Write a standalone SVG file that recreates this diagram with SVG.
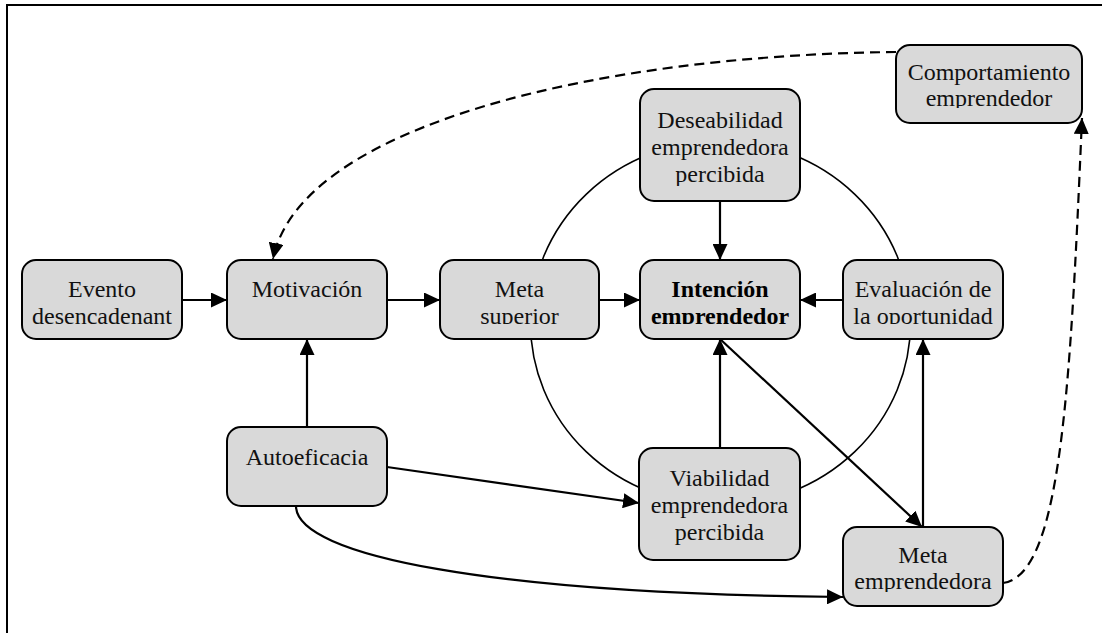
<svg xmlns="http://www.w3.org/2000/svg" width="1102" height="633" viewBox="0 0 1102 633">
  <style>
    .box { fill: #d9d9d9; stroke: #000; stroke-width: 2; }
    .lbl { font-family: "Liberation Serif", "Times New Roman", serif; font-size: 24px; fill: #111; text-anchor: middle; }
    .bold { font-weight: bold; fill: #000; }
    .edge { fill: none; stroke: #000; stroke-width: 2.2; }
    .dash { stroke-dasharray: 10 6; }
    .ring { fill: none; stroke: #000; stroke-width: 1.6; }
    .frame { fill: none; stroke: #000; stroke-width: 2; }
  </style>
  <defs>
    <marker id="arrow" viewBox="0 0 16 15" refX="16" refY="7.5" markerWidth="16" markerHeight="15" markerUnits="userSpaceOnUse" orient="auto">
      <path d="M0,0 L16,7.5 L0,15 z" fill="#000"/>
    </marker>
    <!-- label areas stop a little above each box's lower edge -->
    <clipPath id="c-evento"><rect x="22" y="260" width="160" height="64"/></clipPath>
    <clipPath id="c-motiv"><rect x="227" y="260" width="160" height="64"/></clipPath>
    <clipPath id="c-metasup"><rect x="440" y="260" width="159" height="64"/></clipPath>
    <clipPath id="c-intencion"><rect x="640" y="260" width="160" height="64"/></clipPath>
    <clipPath id="c-eval"><rect x="843" y="260" width="160" height="64"/></clipPath>
    <clipPath id="c-deseab"><rect x="640" y="89" width="160" height="97"/></clipPath>
    <clipPath id="c-comport"><rect x="896" y="45" width="186" height="63"/></clipPath>
    <clipPath id="c-autoef"><rect x="227" y="427" width="160" height="64"/></clipPath>
    <clipPath id="c-viab"><rect x="639" y="448" width="161" height="97"/></clipPath>
    <clipPath id="c-metaemp"><rect x="843" y="527" width="160" height="65"/></clipPath>
  </defs>

  <!-- frame edges -->
  <path class="frame" d="M7,633 L7,5 L1102,5"/>

  <!-- surrounding ring -->
  <ellipse class="ring" cx="720.5" cy="323" rx="190" ry="182"/>

  <g id="connectors">
    <path class="edge" d="M182,300 L227,300" marker-end="url(#arrow)"/>
    <path class="edge" d="M387,300 L440,300" marker-end="url(#arrow)"/>
    <path class="edge" d="M599,300 L640,300" marker-end="url(#arrow)"/>
    <path class="edge" d="M843,300 L800,300" marker-end="url(#arrow)"/>
    <path class="edge" d="M720,201 L720,260" marker-end="url(#arrow)"/>
    <path class="edge" d="M720,448 L720,339" marker-end="url(#arrow)"/>
    <path class="edge" d="M307,427 L307,339" marker-end="url(#arrow)"/>
    <path class="edge" d="M387,467 L639,503" marker-end="url(#arrow)"/>
    <path class="edge" d="M296,506 C296,556 493,594 843,597" marker-end="url(#arrow)"/>
    <path class="edge" d="M720,339 L922,527" marker-end="url(#arrow)"/>
    <path class="edge" d="M923,527 L923,339" marker-end="url(#arrow)"/>
    <path class="edge dash" d="M1003,583 C1060,575 1070,400 1082,118" marker-end="url(#arrow)"/>
    <path class="edge dash" d="M896,52 C600,55 300,125 273,259" marker-end="url(#arrow)"/>
  </g>

  <g id="evento">
    <rect class="box" x="22" y="260" width="160" height="79" rx="14"/>
    <g clip-path="url(#c-evento)">
      <text class="lbl" x="102" y="297">Evento</text>
      <text class="lbl" x="102" y="324">desencadenant</text>
    </g>
  </g>

  <g id="motivacion">
    <rect class="box" x="227" y="260" width="160" height="79" rx="14"/>
    <g clip-path="url(#c-motiv)">
      <text class="lbl" x="307" y="297">Motivación</text>
    </g>
  </g>

  <g id="meta-superior">
    <rect class="box" x="440" y="260" width="159" height="79" rx="14"/>
    <g clip-path="url(#c-metasup)">
      <text class="lbl" x="519.5" y="297">Meta</text>
      <text class="lbl" x="519.5" y="324">superior</text>
    </g>
  </g>

  <g id="intencion">
    <rect class="box" x="640" y="260" width="160" height="79" rx="14"/>
    <g clip-path="url(#c-intencion)">
      <text class="lbl bold" x="720" y="297">Intención</text>
      <text class="lbl bold" x="720" y="324">emprendedor</text>
    </g>
  </g>

  <g id="evaluacion">
    <rect class="box" x="843" y="260" width="160" height="79" rx="14"/>
    <g clip-path="url(#c-eval)">
      <text class="lbl" x="923" y="297">Evaluación de</text>
      <text class="lbl" x="923" y="324">la oportunidad</text>
    </g>
  </g>

  <g id="deseabilidad">
    <rect class="box" x="640" y="89" width="160" height="112" rx="14"/>
    <g clip-path="url(#c-deseab)">
      <text class="lbl" x="720" y="128">Deseabilidad</text>
      <text class="lbl" x="720" y="155">emprendedora</text>
      <text class="lbl" x="720" y="182">percibida</text>
    </g>
  </g>

  <g id="comportamiento">
    <rect class="box" x="896" y="45" width="186" height="78" rx="14"/>
    <g clip-path="url(#c-comport)">
      <text class="lbl" x="989" y="80">Comportamiento</text>
      <text class="lbl" x="989" y="106">emprendedor</text>
    </g>
  </g>

  <g id="autoeficacia">
    <rect class="box" x="227" y="427" width="160" height="79" rx="14"/>
    <g clip-path="url(#c-autoef)">
      <text class="lbl" x="307" y="465">Autoeficacia</text>
    </g>
  </g>

  <g id="viabilidad">
    <rect class="box" x="639" y="448" width="161" height="112" rx="14"/>
    <g clip-path="url(#c-viab)">
      <text class="lbl" x="719.5" y="486">Viabilidad</text>
      <text class="lbl" x="719.5" y="513">emprendedora</text>
      <text class="lbl" x="719.5" y="540">percibida</text>
    </g>
  </g>

  <g id="meta-emprendedora">
    <rect class="box" x="843" y="527" width="160" height="79" rx="14"/>
    <g clip-path="url(#c-metaemp)">
      <text class="lbl" x="923" y="563">Meta</text>
      <text class="lbl" x="923" y="589">emprendedora</text>
    </g>
  </g>
</svg>
